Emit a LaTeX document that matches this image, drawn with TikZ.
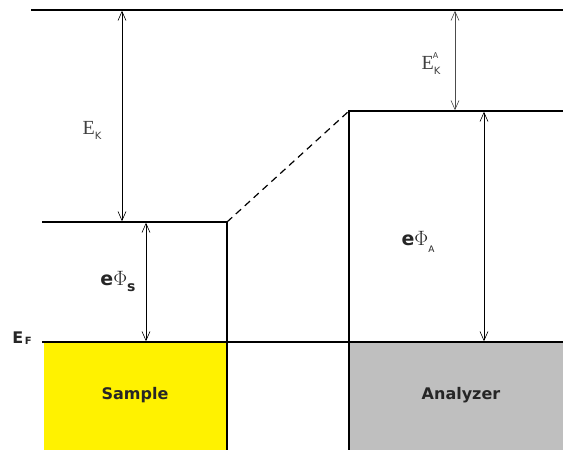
\documentclass[tikz,border=0pt]{standalone}
\usepackage{fontspec}
\setmainfont{Liberation Serif}
\newfontfamily\lblfont{DejaVu Sans}
\usetikzlibrary{arrows.meta}
\tikzset{
  level/.style={line width=1.6pt, line cap=rect},
  dim/.style={line width=0.6pt, {Straight Barb[length=9pt,width=8pt]}-{Straight Barb[length=9pt,width=8pt]}, shorten <=0.8pt, shorten >=0.8pt},
  boxlbl/.style={font=\lblfont\bfseries\fontsize{16}{18}\selectfont, text=black!85},
  serlbl/.style={font=\fontsize{20}{22}\selectfont, text=black!75},
}
\newcommand{\smallsub}[2]{\mbox{\lblfont\fontsize{#1}{#1}\selectfont #2}}
\begin{document}
\begin{tikzpicture}[x=1pt,y=-1pt]
\useasboundingbox (0,0) rectangle (563,450);
% filled regions
\fill[yellow] (44,343) rectangle (227,450);
\fill[black!25] (349,343) rectangle (563,450);
% coordinates
\coordinate (vacL) at (32,10);
\coordinate (vacR) at (563,10);
\coordinate (sL) at (43,222);
\coordinate (sR) at (227,222);
\coordinate (sB) at (227,450);
\coordinate (fL) at (43,342);
\coordinate (fR) at (563,342);
\coordinate (aL) at (349,111);
\coordinate (aR) at (563,111);
\coordinate (aB) at (349,450);
% levels
\draw[level] (vacL) -- (vacR);
\draw[level] (sL) -- (sR) -- (sB);
\draw[level] (fL) -- (fR);
\draw[level] (aB) -- (aL) -- (aR);
\draw[line width=1.2pt, dash pattern=on 7pt off 5pt] (sR) -- (aL);
% dimension arrows
\coordinate (ek1) at (122,10);
\coordinate (ek2) at (122,222);
\coordinate (es1) at (146,222);
\coordinate (es2) at (146,342);
\coordinate (eka1) at (455,10);
\coordinate (eka2) at (455,111);
\coordinate (ea1) at (484,111);
\coordinate (ea2) at (484,342);
\draw[dim] (ek1) -- (ek2);
\draw[dim] (es1) -- (es2);
\draw[dim, black!70] (eka1) -- (eka2);
\draw[dim] (ea1) -- (ea2);
% labels
\node[serlbl, inner sep=0pt] (lEK) at (92,130) {E\raisebox{-5pt}{\smallsub{10}{K}}};
\node[serlbl, inner sep=0pt] (lEKA) at (430,64) {E\raisebox{-5pt}{\smallsub{10}{K}}\hspace{-7.5pt}\raisebox{11pt}{\smallsub{8}{A}}};
\node[text=black!85, inner sep=0pt] (lES) at (118,282) {{\lblfont\bfseries\fontsize{19}{21}\selectfont e}{\fontsize{20}{22}\selectfont$\Phi$}\raisebox{-6pt}{\lblfont\bfseries\fontsize{14}{14}\selectfont s}};
\node[text=black!85, inner sep=0pt] (lEA) at (418,242) {{\lblfont\bfseries\fontsize{19}{21}\selectfont e}{\fontsize{20}{22}\selectfont$\Phi$}\raisebox{-7pt}{\lblfont\fontsize{9}{9}\selectfont A}};
\node[text=black!85, inner sep=0pt] (lEF) at (22,338) {{\lblfont\bfseries\fontsize{16}{18}\selectfont E}\,\raisebox{-1pt}{\lblfont\bfseries\fontsize{10}{10}\selectfont F}};
\node[boxlbl] (lS) at (135,395) {Sample};
\node[boxlbl] (lA) at (461,395) {Analyzer};
\end{tikzpicture}
\end{document}
